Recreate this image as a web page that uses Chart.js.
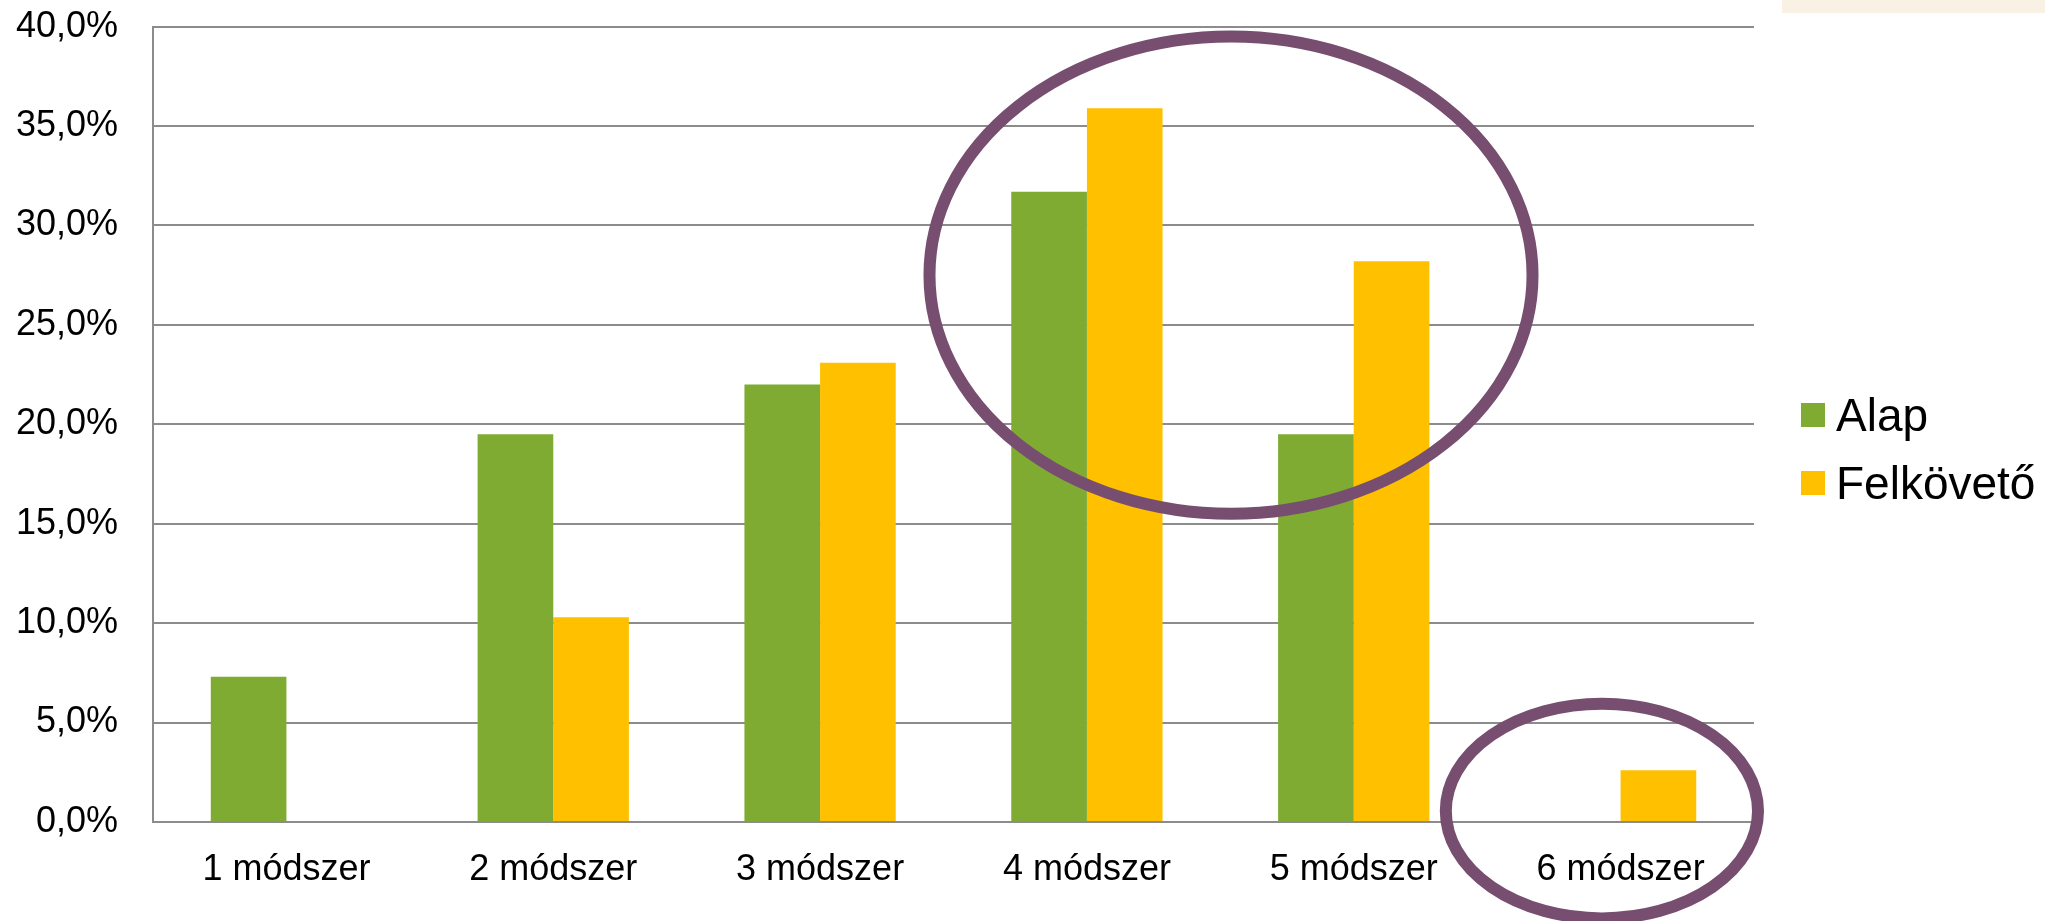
<!DOCTYPE html>
<html>
<head>
<meta charset="utf-8">
<script src="https://cdn.jsdelivr.net/npm/chart.js@4"></script>
<style>
  html, body { margin: 0; padding: 0; background: #fff; overflow: hidden; }
  #wrap { position: relative; width: 2045px; height: 921px; overflow: hidden; }
  #chart { position: absolute; left: 0; top: -30px; }
  #band { position: absolute; left: 1782px; top: 0; width: 263px; height: 13px; background: #f8f1e4; }
  #legend { position: absolute; left: 1801px; top: 381px; font-family: "Liberation Sans", Arial, sans-serif; font-size: 46px; color: #000; white-space: nowrap; }
  .item { display: flex; align-items: center; height: 68px; }
  .swatch { width: 24px; height: 24px; margin-right: 11px; flex: none; }
</style>
</head>
<body>
<div id="wrap">
  <canvas id="chart" width="2045" height="951"></canvas>
  <div id="band"></div>
  <div id="legend"></div>
</div>
<script>
// data
const categories = ["1 módszer", "2 módszer", "3 módszer", "4 módszer", "5 módszer", "6 módszer"];
const alapValues = [7.3, 19.5, 22.0, 31.7, 19.5, 0];
const felkovetoValues = [0, 10.3, 23.1, 35.9, 28.2, 2.6];
const seriesNames = ["Alap", "Felkövető"];
const seriesColors = ["#7fab33", "#ffc000"];
const yMin = 0, yMax = 40, yStep = 5;

const fontFamily = '"Liberation Sans", Arial, sans-serif';
const gridColor = "#8c8c8c";

// purple rings drawn over the chart (category index, value, half-width in categories, half-height in %)
const rings = [
    { at: 3.54, value: 27.5, rx: 1.13, ry: 12.0 },
    { at: 4.93, value: 0.55, rx: 0.585, ry: 5.4 }
];

const ringPlugin = {
    id: "rings",
    afterDraw(chart) {
        const { ctx, scales: { x, y } } = chart;
        const catW = x.getPixelForValue(1) - x.getPixelForValue(0);
        const pxPerUnit = y.getPixelForValue(0) - y.getPixelForValue(1);
        ctx.save();
        ctx.strokeStyle = "#774e70";
        ctx.lineWidth = 12;
        rings.forEach(r => {
            ctx.beginPath();
            ctx.ellipse(x.getPixelForValue(r.at), y.getPixelForValue(r.value),
                r.rx * catW, r.ry * pxPerUnit, 0, 0, Math.PI * 2);
            ctx.stroke();
        });
        ctx.restore();
    }
};

const chart = new Chart(document.getElementById("chart").getContext("2d"), {
    type: "bar",
    data: {
        labels: categories,
        datasets: [
            { label: seriesNames[0], data: alapValues, backgroundColor: seriesColors[0] },
            { label: seriesNames[1], data: felkovetoValues, backgroundColor: seriesColors[1] }
        ]
    },
    options: {
        responsive: false,
        animation: false,
        devicePixelRatio: 1,
        layout: { padding: { left: 0, right: 291, top: 0, bottom: 0 } },
        datasets: { bar: { barPercentage: 1, categoryPercentage: 0.567 } },
        plugins: { legend: { display: false }, tooltip: { enabled: false } },
        scales: {
            x: {
                afterFit: s => { s.height = 99; },
                grid: { display: false },
                border: { color: gridColor, width: 2 },
                ticks: { color: "#000", padding: 18, font: { family: fontFamily, size: 36 } }
            },
            y: {
                min: yMin,
                max: yMax,
                afterFit: s => { s.width = 153; },
                grid: { color: gridColor, lineWidth: 2, drawTicks: false },
                border: { color: gridColor, width: 2 },
                ticks: {
                    stepSize: yStep,
                    color: "#000",
                    padding: 35,
                    font: { family: fontFamily, size: 36 },
                    callback: v => v.toFixed(1).replace(".", ",") + "%"
                }
            }
        }
    },
    plugins: [ringPlugin]
});

// legend
const legend = document.getElementById("legend");
chart.data.datasets.forEach(ds => {
    legend.innerHTML += `<div class="item"><span class="swatch" style="background:${ds.backgroundColor}"></span>${ds.label}</div>`;
});
</script>
</body>
</html>
